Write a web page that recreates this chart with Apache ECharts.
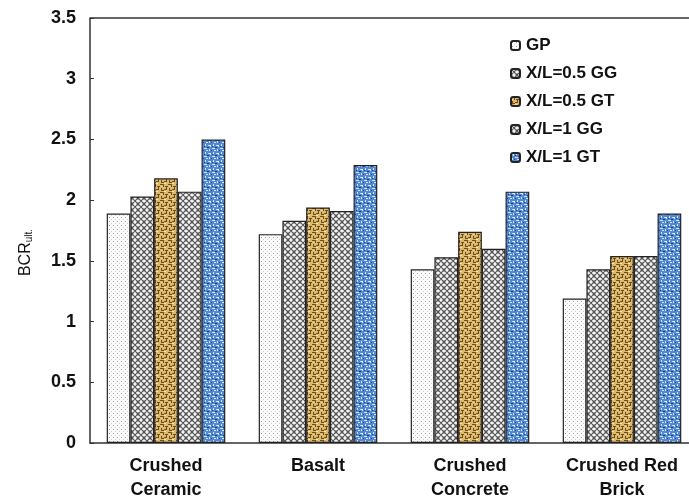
<!DOCTYPE html>
<html>
<head>
<meta charset="utf-8">
<script src="https://cdn.jsdelivr.net/npm/echarts@6/dist/echarts.min.js"></script>
<style>html,body{margin:0;padding:0;background:#fff;}#c{width:689px;height:497px;}</style>
</head>
<body>
<div id="c"></div>
<script>
const categories = ['Crushed\nCeramic', 'Basalt', 'Crushed\nConcrete', 'Crushed Red\nBrick'];
const seriesNames = ['GP', 'X/L=0.5 GG', 'X/L=0.5 GT', 'X/L=1 GG', 'X/L=1 GT'];
const gp     = [1.89, 1.72, 1.43, 1.19];
const gg05   = [2.03, 1.83, 1.53, 1.43];
const gt05   = [2.18, 1.94, 1.74, 1.54];
const gg1    = [2.07, 1.91, 1.60, 1.54];
const gt1    = [2.50, 2.29, 2.07, 1.89];
const yTicks = [0, 0.5, 1, 1.5, 2, 2.5, 3, 3.5];

function tile(w, h, draw) {
  const c = document.createElement('canvas');
  c.width = w; c.height = h;
  const ctx = c.getContext('2d');
  draw(ctx);
  return { image: c, repeat: 'repeat' };
}
const patDots = tile(4, 4, ctx => {
  ctx.fillStyle = '#fbfbfb'; ctx.fillRect(0, 0, 4, 4);
  ctx.fillStyle = '#9a9a9a'; ctx.fillRect(1, 1, 1, 1);
  ctx.fillStyle = '#cfcfcf'; ctx.fillRect(3, 3, 1, 1);
});
const patCross = tile(6, 6, ctx => {
  ctx.fillStyle = '#f4f4f4'; ctx.fillRect(0, 0, 6, 6);
  ctx.strokeStyle = '#555'; ctx.lineWidth = 1.1;
  ctx.beginPath();
  ctx.moveTo(-1, -1); ctx.lineTo(7, 7);
  ctx.moveTo(7, -1); ctx.lineTo(-1, 7);
  ctx.moveTo(2, -1); ctx.lineTo(-1, 2);
  ctx.moveTo(7, 4); ctx.lineTo(4, 7);
  ctx.moveTo(4, -1); ctx.lineTo(7, 2);
  ctx.moveTo(-1, 4); ctx.lineTo(2, 7);
  ctx.stroke();
});
const patTan = tile(8, 8, ctx => {
  ctx.fillStyle = '#ddb96e'; ctx.fillRect(0, 0, 8, 8);
  ctx.fillStyle = '#6e4f1c';
  ctx.fillRect(0, 0, 4, 1); ctx.fillRect(3, 0, 1, 3);
  ctx.fillRect(5, 2, 3, 1); ctx.fillRect(6, 2, 1, 4);
  ctx.fillRect(1, 4, 1, 3); ctx.fillRect(1, 6, 3, 1);
  ctx.fillRect(4, 5, 2, 1);
  ctx.fillStyle = '#f5e2b0';
  ctx.fillRect(1, 2, 1, 1); ctx.fillRect(4, 7, 2, 1);
});
const patBlue = tile(8, 8, ctx => {
  ctx.fillStyle = '#5289d6'; ctx.fillRect(0, 0, 8, 8);
  ctx.fillStyle = '#cfe0f7';
  ctx.fillRect(0, 1, 3, 1); ctx.fillRect(2, 1, 1, 2);
  ctx.fillRect(5, 0, 1, 2); ctx.fillRect(4, 4, 3, 1);
  ctx.fillRect(1, 5, 1, 2); ctx.fillRect(6, 6, 2, 1);
  ctx.fillStyle = '#1f3f7a';
  ctx.fillRect(4, 2, 1, 1); ctx.fillRect(0, 3, 1, 1);
  ctx.fillRect(3, 6, 1, 1); ctx.fillRect(7, 3, 1, 1);
});
const patterns = [patDots, patCross, patTan, patCross, patBlue];
const values = [gp, gg05, gt05, gg1, gt1];

const chart = echarts.init(document.getElementById('c'), null, { renderer: 'canvas' });
const font = 'Arial, "Liberation Sans", sans-serif';
chart.setOption({
  animation: false,
  backgroundColor: '#fff',
  grid: { left: 90, top: 18, width: 608, height: 425, outerBoundsMode: 'none', containLabel: false },
  legend: {
    orient: 'vertical', left: 510, top: 37, padding: 0, itemWidth: 9, itemHeight: 9, itemGap: 11,
    textStyle: { fontFamily: font, fontWeight: 'bold', fontSize: 17, color: '#111', padding: [0, 0, 0, 1] },
    data: seriesNames
  },
  xAxis: {
    type: 'category', data: categories,
    axisLine: { lineStyle: { color: '#333', width: 1.5 } },
    axisTick: { inside: true, length: 4, lineStyle: { color: '#333' } },
    axisLabel: { fontFamily: font, fontWeight: 'bold', fontSize: 18, color: '#111', lineHeight: 24, margin: 11 }
  },
  yAxis: {
    type: 'value', min: 0, max: 3.5, interval: 0.5,
    name: '{a|BCR}{b|ult.}', nameLocation: 'middle', nameGap: 56, nameRotate: 90,
    nameTextStyle: { padding: [0, 44, 0, 0], rich: {
      a: { fontFamily: font, fontSize: 16, color: '#111' },
      b: { fontFamily: font, fontSize: 10, color: '#111', verticalAlign: 'bottom', padding: [7, 0, 0, 0] }
    } },
    axisLine: { show: true, lineStyle: { color: '#333', width: 1.5 } },
    axisTick: { show: true, inside: true, length: 4, lineStyle: { color: '#333' } },
    splitLine: { show: false },
    axisLabel: { fontFamily: font, fontWeight: 'bold', fontSize: 18, color: '#111', margin: 14,
      formatter: v => yTicks.includes(v) ? String(v) : '' }
  },
  series: seriesNames.map((n, i) => ({
    name: n, type: 'bar', data: values[i], barGap: '0%', barCategoryGap: '22%',
    itemStyle: { color: patterns[i], borderColor: '#222', borderWidth: 1.2 }
  })),
  graphic: [{ type: 'line', shape: { x1: 90, y1: 18, x2: 689, y2: 18 }, style: { stroke: '#333', lineWidth: 1.5 } }]
});
</script>
</body>
</html>
